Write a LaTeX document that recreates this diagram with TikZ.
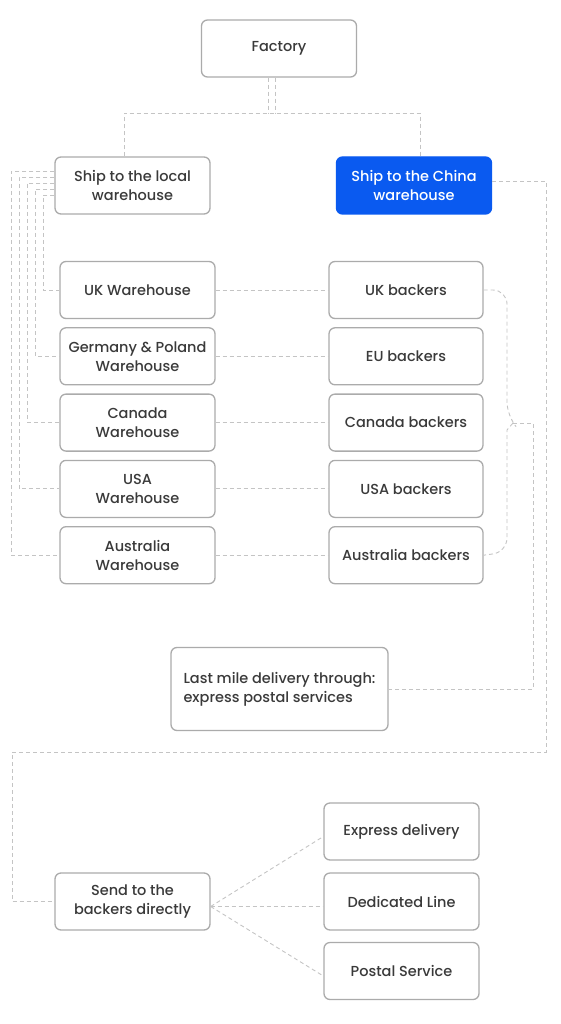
\documentclass[tikz,border=0pt]{standalone}
\usepackage{fontspec}
\setmainfont{Poppins}[UprightFont={* Medium}]
\usetikzlibrary{positioning}

\definecolor{inkgray}{HTML}{3A3A3A}
\definecolor{edgegray}{HTML}{ABABAB}
\definecolor{linkgray}{HTML}{C4C4C4}
\definecolor{chinablue}{HTML}{0A5AF0}

\tikzset{
    stage/.style={draw=edgegray, line width=1.3pt, rounded corners=6pt, fill=white,
        text=inkgray, font=\fontsize{14.5}{19}\selectfont, align=center,
        minimum width=155pt, minimum height=57pt, inner sep=2pt},
    picked/.style={stage, draw=chinablue, fill=chinablue, text=white},
    link/.style={draw=linkgray, line width=0.9pt, dash pattern=on 4pt off 3pt}
}

\begin{document}
\begin{tikzpicture}[x=1pt, y=-1pt]
    \useasboundingbox (0,0) rectangle (560,1024);

    % top level
    \node[stage] (factory) at (279,48.5) {Factory};
    \node[stage] (local) at (132.5,185.5) {Ship to the local\\warehouse};
    \node[picked] (china) at (414,185.5) {Ship to the China\\warehouse};

    % warehouses and backers
    \node[stage] (ukw) at (137.5,290) {UK Warehouse};
    \node[stage, below=8pt of ukw] (dew) {Germany \& Poland\\Warehouse};
    \node[stage, below=8pt of dew] (caw) {Canada\\Warehouse};
    \node[stage, below=8pt of caw] (usw) {USA\\Warehouse};
    \node[stage, below=8pt of usw] (auw) {Australia\\Warehouse};

    \node[stage, minimum width=154pt] (ukb) at (406,290) {UK backers};
    \node[stage, minimum width=154pt, below=8pt of ukb] (eub) {EU backers};
    \node[stage, minimum width=154pt, below=8pt of eub] (cab) {Canada backers};
    \node[stage, minimum width=154pt, below=8pt of cab] (usb) {USA backers};
    \node[stage, minimum width=154pt, below=8pt of usb] (aub) {Australia backers};

    % delivery
    \node[stage, align=left, minimum width=217pt, minimum height=83pt] (lastmile) at (279.5,689)
        {Last mile delivery through:\\express postal services};
    \node[stage] (send) at (132.5,901.5) {Send to the\\backers directly};
    \node[stage] (express) at (401.5,831.5) {Express delivery};
    \node[stage] (dedicated) at (401.5,901.5) {Dedicated Line};
    \node[stage] (postal) at (401.5,971) {Postal Service};

    % factory split
    \coordinate (bus) at (0,113);
    \draw[link] ([xshift=-11pt]factory.south) -- ([xshift=-11pt]factory.south |- bus);
    \draw[link] ([xshift=-4pt]factory.south) -- ([xshift=-4pt]factory.south |- bus);
    \draw[link] ([xshift=-8.5pt]local.north) -- ([xshift=-8.5pt]local.north |- bus)
        -- ([xshift=6pt]china.north |- bus) -- ([xshift=6pt]china.north);

    % local warehouse fan
    \foreach \w/\dy/\dx in {ukw/-9.5/11, dew/-3.5/19, caw/2.5/27, usw/8.5/35, auw/14.5/43}
        \draw[link] ([yshift=\dy pt]local.west) -- ++(-\dx,0) |- (\w.west);

    % warehouse to backers
    \foreach \w/\b in {ukw/ukb, dew/eub, caw/cab, usw/usb, auw/aub}
        \draw[link] (\w) -- (\b);

    % backers brace to last mile
    \coordinate (tip) at (513,423);
    \coordinate (drop) at (533,423);
    \draw[link] (ukb.east) [rounded corners=14pt] -- (507,290) -- (507,416)
        [sharp corners] -- (tip) -- (507,430) [rounded corners=14pt] -- (507,552) -- (aub.east);
    \draw[link] (tip) -- (drop) |- (lastmile.east);

    % china route to direct sending
    \coordinate (outer) at (546,752);
    \coordinate (back) at (12,752);
    \draw[link] ([yshift=4.5pt]china.east) -| (outer) -- (back) |- (send.west);

    % direct sending options
    \foreach \s in {express, dedicated, postal}
        \draw[link] ([yshift=-5pt]send.east) -- ([yshift=-5pt]\s.west);
\end{tikzpicture}
\end{document}
